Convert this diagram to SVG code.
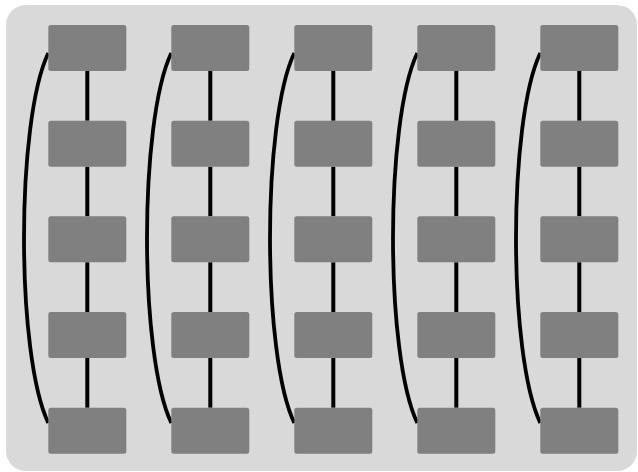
<svg xmlns="http://www.w3.org/2000/svg" width="638" height="472" viewBox="0 0 638 472">
<style>
.n{fill:#808080}
.v{stroke:#000;stroke-width:4;fill:none}
.c{stroke:#000;stroke-width:3.8;fill:none}
</style>
<defs>
<rect id="box" width="78" height="46" rx="2.5"/>
</defs>
<rect x="6" y="5" width="631" height="466" rx="20" fill="#d9d9d9"/>
<g id="connectors">
<path class="v" d="M87.3 71V120.7M87.3 166.7V216.3M87.3 262.3V312M87.3 358V407.7"/>
<path class="v" d="M210.3 71V120.7M210.3 166.7V216.3M210.3 262.3V312M210.3 358V407.7"/>
<path class="v" d="M333.3 71V120.7M333.3 166.7V216.3M333.3 262.3V312M333.3 358V407.7"/>
<path class="v" d="M456.3 71V120.7M456.3 166.7V216.3M456.3 262.3V312M456.3 358V407.7"/>
<path class="v" d="M579.3 71V120.7M579.3 166.7V216.3M579.3 262.3V312M579.3 358V407.7"/>
<path class="c" d="M48.3 53C15.9 121 15.9 355 48.3 423"/>
<path class="c" d="M171.3 53C138.9 121 138.9 355 171.3 423"/>
<path class="c" d="M294.3 53C261.9 121 261.9 355 294.3 423"/>
<path class="c" d="M417.3 53C384.9 121 384.9 355 417.3 423"/>
<path class="c" d="M540.3 53C507.9 121 507.9 355 540.3 423"/>
</g>
<g id="n1_1"><use href="#box" class="n" x="48.3" y="25"/></g>
<g id="n1_2"><use href="#box" class="n" x="48.3" y="120.7"/></g>
<g id="n1_3"><use href="#box" class="n" x="48.3" y="216.3"/></g>
<g id="n1_4"><use href="#box" class="n" x="48.3" y="312"/></g>
<g id="n1_5"><use href="#box" class="n" x="48.3" y="407.7"/></g>
<g id="n2_1"><use href="#box" class="n" x="171.3" y="25"/></g>
<g id="n2_2"><use href="#box" class="n" x="171.3" y="120.7"/></g>
<g id="n2_3"><use href="#box" class="n" x="171.3" y="216.3"/></g>
<g id="n2_4"><use href="#box" class="n" x="171.3" y="312"/></g>
<g id="n2_5"><use href="#box" class="n" x="171.3" y="407.7"/></g>
<g id="n3_1"><use href="#box" class="n" x="294.3" y="25"/></g>
<g id="n3_2"><use href="#box" class="n" x="294.3" y="120.7"/></g>
<g id="n3_3"><use href="#box" class="n" x="294.3" y="216.3"/></g>
<g id="n3_4"><use href="#box" class="n" x="294.3" y="312"/></g>
<g id="n3_5"><use href="#box" class="n" x="294.3" y="407.7"/></g>
<g id="n4_1"><use href="#box" class="n" x="417.3" y="25"/></g>
<g id="n4_2"><use href="#box" class="n" x="417.3" y="120.7"/></g>
<g id="n4_3"><use href="#box" class="n" x="417.3" y="216.3"/></g>
<g id="n4_4"><use href="#box" class="n" x="417.3" y="312"/></g>
<g id="n4_5"><use href="#box" class="n" x="417.3" y="407.7"/></g>
<g id="n5_1"><use href="#box" class="n" x="540.3" y="25"/></g>
<g id="n5_2"><use href="#box" class="n" x="540.3" y="120.7"/></g>
<g id="n5_3"><use href="#box" class="n" x="540.3" y="216.3"/></g>
<g id="n5_4"><use href="#box" class="n" x="540.3" y="312"/></g>
<g id="n5_5"><use href="#box" class="n" x="540.3" y="407.7"/></g>
</svg>
